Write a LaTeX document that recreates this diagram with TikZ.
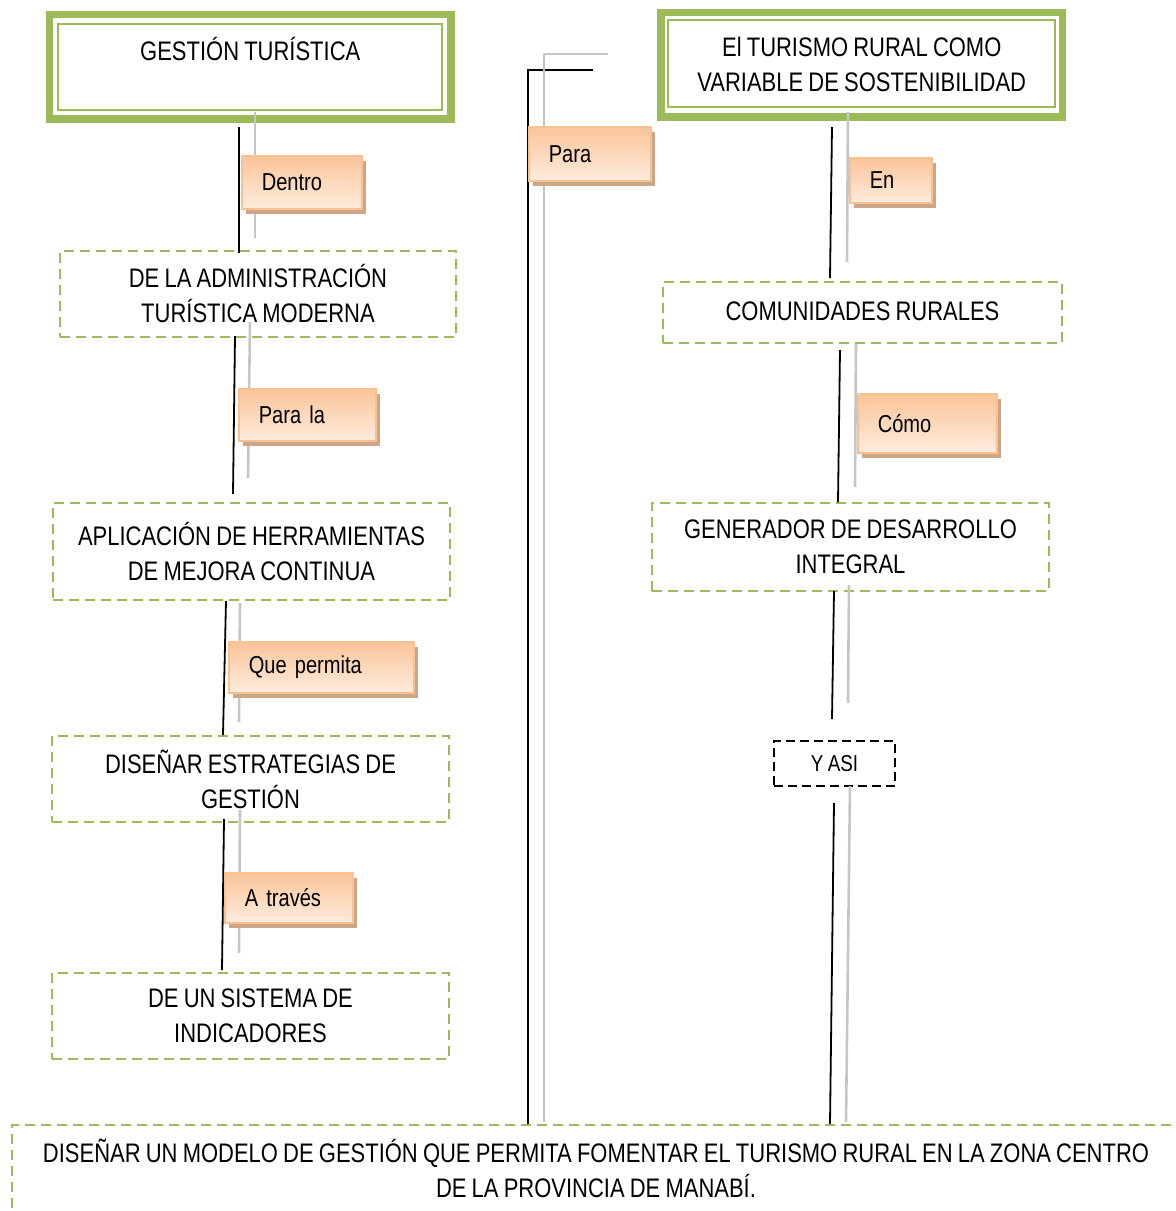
\documentclass[tikz,border=0pt]{standalone}
\usepackage{fontspec}
\setmainfont{Liberation Sans}[FakeStretch=0.82, WordSpace=0.85]
\usetikzlibrary{shadows}
\definecolor{grn}{RGB}{155,187,89}
\definecolor{gry}{RGB}{198,198,198}
\definecolor{lblborder}{RGB}{250,192,143}
\definecolor{lblshadow}{RGB}{205,165,135}
\definecolor{lbltop}{RGB}{250,196,152}
\definecolor{lblbot}{RGB}{254,236,222}
\tikzset{
  maintext/.style={font=\fontsize{26.8}{35}\selectfont},
  dbox/.style={maintext, draw=grn, dash pattern=on 10pt off 6pt, line width=2.2pt, align=center, inner sep=0pt},
  tbox/.style={maintext, draw=grn, line width=7.5pt, align=center, inner sep=0pt},
  innerline/.style={draw=grn, line width=2pt},
  lbl/.style={font=\fontsize{24.5}{28}\selectfont, draw=lblborder, line width=1.5pt,
    top color=lbltop, bottom color=lblbot, anchor=north west, inner xsep=20pt, inner ysep=0pt,
    align=left, drop shadow={shadow xshift=4pt, shadow yshift=-5pt, fill=lblshadow, opacity=1}},
  blk/.style={draw=black, line width=1.8pt},
  gr/.style={draw=gry, line width=2.6pt},
}
\begin{document}
\begin{tikzpicture}[x=1pt,y=-1pt]
\useasboundingbox (0,0) rectangle (1176,1211);
\clip (0,0) rectangle (1176,1211);

% title boxes
\node[tbox, minimum width=401.5pt, minimum height=104.5pt] (t1) at (250.25,66.75) {GESTIÓN TURÍSTICA\\~};
\draw[innerline] (58,24) rectangle (442,110);
\node[tbox, minimum width=401.5pt, minimum height=104.5pt] (t2) at (861.75,64.75) {El TURISMO RURAL COMO\\VARIABLE DE SOSTENIBILIDAD};
\draw[innerline] (668,20) rectangle (1055,107);

% dashed boxes, left
\node[dbox, minimum width=396pt, minimum height=86pt] (a2) at (258,294) {DE LA ADMINISTRACIÓN\\TURÍSTICA MODERNA};
\node[dbox, minimum width=397pt, minimum height=97pt] (a3) at (251.5,551.5) {APLICACIÓN DE HERRAMIENTAS\\DE MEJORA CONTINUA};
\node[dbox, minimum width=397pt, minimum height=86pt] (a4) at (250.5,779) {DISEÑAR ESTRATEGIAS DE\\GESTIÓN};
\node[dbox, minimum width=397pt, minimum height=86pt] (a5) at (250.5,1016) {DE UN SISTEMA DE\\INDICADORES};

% dashed boxes, right
\node[dbox, minimum width=399pt, minimum height=61pt] (r2) at (862.5,312.5) {\raisebox{3pt}{COMUNIDADES RURALES}};
\node[dbox, minimum width=397pt, minimum height=88pt] (r3) at (850.5,547) {GENERADOR DE DESARROLLO\\INTEGRAL};
\node[draw=black, dash pattern=on 9pt off 5pt, line width=2.4pt, inner sep=0pt,
      font=\fontsize{23}{26}\selectfont, minimum width=121pt, minimum height=45pt] (ya) at (834.5,763.5) {Y ASI};

% goal box
\node[dbox, minimum width=1168pt, minimum height=87pt] (goal) at (596,1168.5)
  {DISEÑAR UN MODELO DE GESTIÓN QUE PERMITA FOMENTAR EL TURISMO RURAL EN LA ZONA CENTRO\\DE LA PROVINCIA DE MANABÍ.};

% connectors
\foreach \n/\xa/\ya/\xb/\yb in {1/239/127/239/253, 2/235/336/233/494, 3/226/601/223/735, 4/224/819/222/970,
   5/832/127/830/278, 6/840/350/838/502, 7/834/591/832/719, 8/834/803/830/1124}{
  \coordinate (k\n a) at (\xa,\ya); \coordinate (k\n b) at (\xb,\yb);
  \draw[blk] (k\n a) -- (k\n b);
}
\foreach \n/\xa/\ya/\xb/\yb in {1/255/112/255/238, 2/250/322/248/478, 3/240/603/239/722, 4/240/810/239/953,
   5/848/112/847/262, 6/856/344/855/487, 7/849/585/848/703, 8/850/786/846/1122}{
  \coordinate (g\n a) at (\xa,\ya); \coordinate (g\n b) at (\xb,\yb);
  \draw[gr] (g\n a) -- (g\n b);
}
\coordinate (ma) at (593,70); \coordinate (mc) at (528,70); \coordinate (mb) at (528,1124);
\draw[blk] (ma) -- (mc) -- (mb);
\coordinate (na) at (608,54); \coordinate (nc) at (544,54); \coordinate (nb) at (544,1122);
\draw[gr] (na) -- (nc) -- (nb);

% labels
\node[lbl, minimum width=120pt, minimum height=53pt, text width=80pt] (l1) at (241,155) {Dentro};
\node[lbl, minimum width=137pt, minimum height=52pt, text width=97pt] (l2) at (238,388) {Para la};
\node[lbl, minimum width=185pt, minimum height=51pt, text width=145pt] (l3) at (228,641) {Que permita};
\node[lbl, minimum width=128pt, minimum height=50pt, text width=88pt] (l4) at (224,872) {A través};
\node[lbl, minimum width=122pt, minimum height=54pt, text width=82pt] (l5) at (528,126) {Para};
\node[lbl, minimum width=82pt, minimum height=45pt, text width=42pt] (l6) at (849,157) {En};
\node[lbl, minimum width=139pt, minimum height=59pt, text width=99pt] (l7) at (857,393) {Cómo};
\end{tikzpicture}
\end{document}
